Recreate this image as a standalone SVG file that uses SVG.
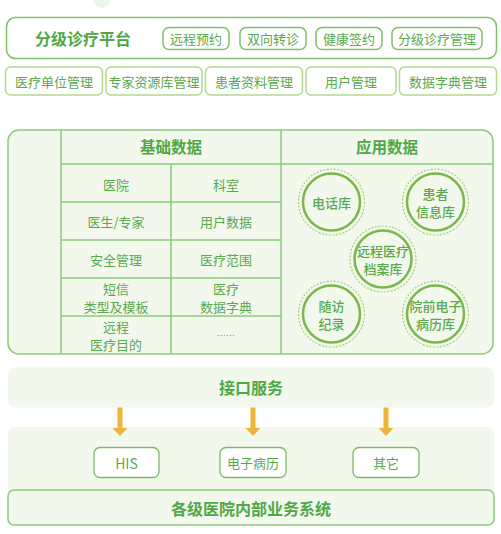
<svg xmlns="http://www.w3.org/2000/svg" width="501" height="534" viewBox="0 0 501 534">
<defs>
<style>
text{font-family:"Noto Sans CJK SC","Liberation Sans",sans-serif;text-anchor:middle;dominant-baseline:central}
.t{fill:#4fa845;font-weight:bold;font-size:16px}
.s{fill:#5aa94e;font-size:13px}
.c{fill:#5aa94e;font-size:13px;font-weight:500}
.pill{fill:#fff;stroke:#7fc06d;stroke-width:1.5}
.pill2{fill:#fff;stroke:#b4d98e;stroke-width:1.5}
.panel{fill:#f2f8ec}
.grid{stroke:#8ccb7c;stroke-width:1.5;fill:none}
.ring{fill:#f2f8ec;stroke:#7ab84a;stroke-width:2.5}
.dash{fill:none;stroke:#a7d07f;stroke-width:1.2;stroke-dasharray:2 1.5}
.arr{fill:#f0b43a}
</style>
</defs>
<circle cx="102" cy="-1" r="9" fill="#eef6e5"/>
<g id="platform">
<rect x="6.5" y="17.5" width="490" height="41" rx="9" fill="#fff" stroke="#7fc06d" stroke-width="1.5"/>
<text class="t" x="83" y="38">分级诊疗平台</text>
</g>
<g id="n-yuancheng"><rect class="pill" x="163" y="27.5" width="66" height="22" rx="6"/><text class="s" x="196" y="38.5">远程预约</text></g>
<g id="n-shuangxiang"><rect class="pill" x="240" y="27.5" width="66" height="22" rx="6"/><text class="s" x="273" y="38.5">双向转诊</text></g>
<g id="n-jiankang"><rect class="pill" x="316" y="27.5" width="66" height="22" rx="6"/><text class="s" x="349" y="38.5">健康签约</text></g>
<g id="n-fenji"><rect class="pill" x="392" y="27.5" width="90" height="22" rx="6"/><text class="s" x="437" y="38.5">分级诊疗管理</text></g>
<g id="n-danwei"><rect class="pill2" x="5.5" y="67" width="97" height="28" rx="5"/><text class="s" x="54" y="81">医疗单位管理</text></g>
<g id="n-zhuanjia"><rect class="pill2" x="106" y="67" width="96" height="28" rx="5"/><text class="s" x="154" y="81">专家资源库管理</text></g>
<g id="n-huanzhe"><rect class="pill2" x="205.5" y="67" width="97" height="28" rx="5"/><text class="s" x="254" y="81">患者资料管理</text></g>
<g id="n-yonghu"><rect class="pill2" x="306" y="67" width="90" height="28" rx="5"/><text class="s" x="351" y="81">用户管理</text></g>
<g id="n-zidian"><rect class="pill2" x="399.5" y="67" width="97" height="28" rx="5"/><text class="s" x="448" y="81">数据字典管理</text></g>

<g id="data">
<rect x="8" y="130" width="485" height="224" rx="11" fill="#f2f8ec" stroke="#8ccb7c" stroke-width="1.5"/>
<path class="grid" d="M61 130V354M61 164H493M281 130V354M171 164V354M61 202H281M61 240H281M61 278H281M61 316H281"/>
<text class="t" x="171" y="146" style="font-size:15.5px">基础数据</text>
<text class="t" x="387" y="146" style="font-size:15.5px">应用数据</text>
<text class="s" x="116" y="184">医院</text>
<text class="s" x="226" y="184">科室</text>
<text class="s" x="116" y="221">医生/专家</text>
<text class="s" x="226" y="221">用户数据</text>
<text class="s" x="116" y="259">安全管理</text>
<text class="s" x="226" y="259">医疗范围</text>
<text class="s" x="116" y="288">短信</text>
<text class="s" x="116" y="306">类型及模板</text>
<text class="s" x="226" y="288">医疗</text>
<text class="s" x="226" y="306">数据字典</text>
<text class="s" x="116" y="326">远程</text>
<text class="s" x="116" y="344">医疗目的</text>
<text class="s" x="226" y="335" style="font-size:9px">……</text>
</g>
<g id="c-dianhua"><circle class="dash" cx="331.5" cy="202" r="33"/><circle class="ring" cx="331.5" cy="202" r="28.5"/><text class="c" x="331.5" y="202">电话库</text></g>
<g id="c-huanzhe"><circle class="dash" cx="435.5" cy="202" r="33"/><circle class="ring" cx="435.5" cy="202" r="28.5"/><text class="c" x="435.5" y="193">患者</text><text class="c" x="435.5" y="211">信息库</text></g>
<g id="c-dangan"><circle class="dash" cx="383" cy="259" r="33"/><circle class="ring" cx="383" cy="259" r="28.5"/><text class="c" x="383" y="250">远程医疗</text><text class="c" x="383" y="268">档案库</text></g>
<g id="c-suifang"><circle class="dash" cx="331.5" cy="314" r="33"/><circle class="ring" cx="331.5" cy="314" r="28.5"/><text class="c" x="331.5" y="305">随访</text><text class="c" x="331.5" y="323">纪录</text></g>
<g id="c-yuanqian"><circle class="dash" cx="435.5" cy="314" r="33"/><circle class="ring" cx="435.5" cy="314" r="28.5"/><text class="c" x="435.5" y="305">院前电子</text><text class="c" x="435.5" y="323">病历库</text></g>

<g id="interface">
<rect class="panel" x="8" y="367.5" width="486" height="40" rx="7"/>
<text class="t" x="251" y="387">接口服务</text>
</g>
<g id="hospital">
<rect class="panel" x="8" y="427" width="486" height="98" rx="7"/>
<rect x="8" y="490" width="486" height="35" rx="6" fill="#f2f8ec" stroke="#8ccb7c" stroke-width="1.5"/>
<text class="t" x="251" y="507.5">各级医院内部业务系统</text>
</g>
<g id="n-his"><rect x="94" y="447.5" width="65" height="30" rx="6" fill="#fff" stroke="#7fb86a" stroke-width="1.3"/><text class="s" x="126.5" y="462.5" style="font-size:14px">HIS</text></g>
<g id="n-dianzi"><rect x="220" y="447.5" width="66" height="30" rx="6" fill="#fff" stroke="#7fb86a" stroke-width="1.3"/><text class="s" x="253" y="462.5">电子病历</text></g>
<g id="n-qita"><rect x="353" y="447.5" width="66" height="30" rx="6" fill="#fff" stroke="#7fb86a" stroke-width="1.3"/><text class="s" x="386" y="462.5">其它</text></g>

<g id="connectors">
<path class="arr" d="M117.5 407.5H122.5V428H127.5L120 436L112.5 428H117.5Z"/>
<path class="arr" d="M250.5 407.5H255.5V428H260.5L253 436L245.5 428H250.5Z"/>
<path class="arr" d="M383.5 407.5H388.5V428H393.5L386 436L378.5 428H383.5Z"/>
</g>
</svg>
